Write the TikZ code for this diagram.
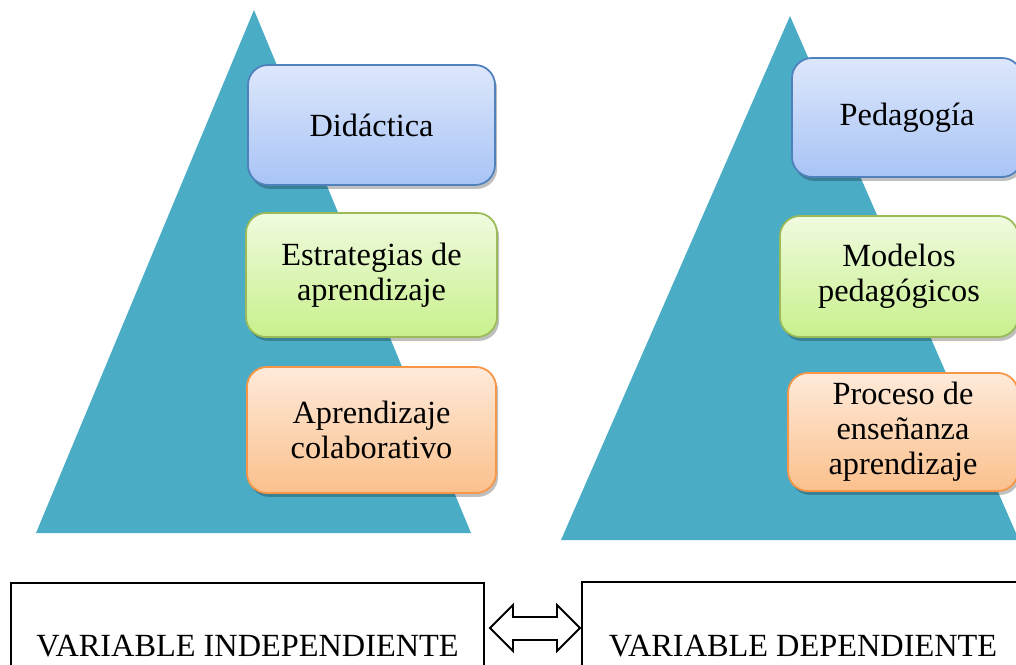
\documentclass[tikz,border=0pt]{standalone}
\usepackage{fontspec}
\setmainfont{Liberation Serif}
\usetikzlibrary{shadows}
\definecolor{tri}{HTML}{4BACC6}
\definecolor{bluetop}{HTML}{DDE7FB}
\definecolor{bluebot}{HTML}{A8C4F6}
\definecolor{blueline}{HTML}{4F81BD}
\definecolor{greentop}{HTML}{F0FBDF}
\definecolor{greenbot}{HTML}{C8F08C}
\definecolor{greenline}{HTML}{9BBB59}
\definecolor{orangetop}{HTML}{FEEADA}
\definecolor{orangebot}{HTML}{FBC08C}
\definecolor{orangeline}{HTML}{F79646}
\tikzset{
  card/.style={rounded corners=4mm, line width=1pt, align=center,
    font=\fontsize{18.4pt}{20pt}\selectfont, inner sep=2pt,
    drop shadow={shadow xshift=1.2pt, shadow yshift=-2.2pt, opacity=0.25, fill=black}},
  bluecard/.style={card, top color=bluetop, bottom color=bluebot, draw=blueline},
  greencard/.style={card, top color=greentop, bottom color=greenbot, draw=greenline},
  orangecard/.style={card, top color=orangetop, bottom color=orangebot, draw=orangeline},
  varbox/.style={draw, line width=1.1pt, fill=white, font=\fontsize{18.4pt}{20pt}\selectfont, inner sep=0pt},
  blockarrow/.style={draw, line width=1.1pt, fill=white, line join=miter}
}
\begin{document}
\begin{tikzpicture}[x=0.2mm, y=-0.2mm]
\useasboundingbox (0,0) rectangle (1016,665);
\clip (0,0) rectangle (1016,665);
% triangles
\fill[tri] (254,10) -- (471,533) -- (36,533) -- cycle;
\fill[tri] (790,16) -- (1019,540) -- (561,540) -- cycle;
% left column
\node[bluecard, minimum width=247*0.2mm, minimum height=120*0.2mm] (L1) at (371.5,125) {Didáctica};
\node[greencard, minimum width=251*0.2mm, minimum height=124*0.2mm] (L2) at (371.5,275) {Estrategias de\\aprendizaje};
\node[orangecard, minimum width=249*0.2mm, minimum height=126*0.2mm] (L3) at (371.5,430) {Aprendizaje\\colaborativo};
% right column
\node[bluecard, minimum width=230*0.2mm, minimum height=119*0.2mm] (R1) at (907,117.5) {\raisebox{-3pt}{Pedagogía}};
\node[greencard, minimum width=238*0.2mm, minimum height=121*0.2mm] (R2) at (899,276.5) {Modelos\\pedagógicos};
\node[orangecard, minimum width=230*0.2mm, minimum height=118*0.2mm] (R3) at (903,432) {Proceso de\\enseñanza\\aprendizaje};
% bottom boxes
\node[varbox, minimum width=473*0.2mm, minimum height=126*0.2mm] (BL) at (247.5,646) {VARIABLE INDEPENDIENTE};
\node[varbox, minimum width=442*0.2mm, minimum height=128*0.2mm] (BR) at (803,646) {VARIABLE DEPENDIENTE};
% double block arrow
\draw[blockarrow] (490,628) -- (513,605) -- (513,617) -- (557,617) -- (557,605) -- (580,628)
  -- (557,651) -- (557,640) -- (513,640) -- (513,651) -- cycle;
\end{tikzpicture}
\end{document}
